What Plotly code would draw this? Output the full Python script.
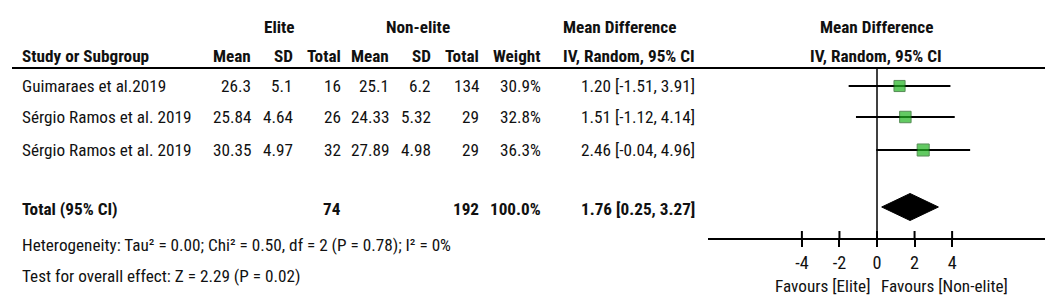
import plotly.graph_objects as go

# ---------------- data ----------------
studies = ["Guimaraes et al.2019", "Sérgio Ramos et al. 2019", "Sérgio Ramos et al. 2019"]
elite_mean = [26.3, 25.84, 30.35]
elite_sd = [5.1, 4.64, 4.97]
elite_total = [16, 26, 32]
non_mean = [25.1, 24.33, 27.89]
non_sd = [6.2, 5.32, 4.98]
non_total = [134, 29, 29]
weights = [30.9, 32.8, 36.3]
md = [1.20, 1.51, 2.46]
ci_lo = [-1.51, -1.12, -0.04]
ci_hi = [3.91, 4.14, 4.96]

total_elite = 74
total_non = 192
total_weight = 100.0
total_md = 1.76
total_lo = 0.25
total_hi = 3.27

heterogeneity = "Heterogeneity: Tau² = 0.00; Chi² = 0.50, df = 2 (P = 0.78); I² = 0%"
overall = "Test for overall effect: Z = 2.29 (P = 0.02)"

tick_vals = [-4, -2, 0, 2, 4]
tick_text = ["-4", "-2", "0", "2", "4"]
axis_range = [-9, 9]
null_effect = 0
favours_left = "Favours [Elite]"
favours_right = "Favours [Non-elite]"

# ---------------- layout constants (pixels) ----------------
W, H = 1053, 295
FONT = "Liberation Sans Narrow, Arial Narrow, Roboto Condensed, DejaVu Sans Condensed, sans-serif"
FS = 17.2
TXT = "#111111"
row_y = [78, 109, 142]
total_y = 201
het_y = 237
test_y = 268
hdr1_y = 19
hdr2_y = 48
line_y = 60
axis_y = 231
col_x = [245, 287, 335, 383, 425, 473, 535]
ci_x = 689
label_x = 12
plot_x0, plot_x1 = 700, 1038

fig = go.Figure()

def ann(x, y, text, anchor="left", bold=False, xref="x"):
    fig.add_annotation(x=x, y=y, xref=xref, yref="y", text=("<b>%s</b>" % text) if bold else text,
                       showarrow=False, xanchor=anchor, yanchor="middle",
                       font=dict(family=FONT, size=FS, color=TXT))

# headers
ann(271, hdr1_y, "Elite", "center", True)
ann(410, hdr1_y, "Non-elite", "center", True)
ann(553, hdr1_y, "Mean Difference", "left", True)
ann(868, hdr1_y, "Mean Difference", "center", True)
ann(label_x, hdr2_y, "Study or Subgroup", "left", True)
for x, t in zip(col_x, ["Mean", "SD", "Total", "Mean", "SD", "Total", "Weight"]):
    ann(x, hdr2_y, t, "right", True)
ann(553, hdr2_y, "IV, Random, 95% CI", "left", True)
ann(868, hdr2_y, "IV, Random, 95% CI", "center", True)

# study rows
for i, y in enumerate(row_y):
    ann(label_x, y, studies[i])
    vals = [str(elite_mean[i]), str(elite_sd[i]), str(elite_total[i]),
            str(non_mean[i]), str(non_sd[i]), str(non_total[i]), "%.1f%%" % weights[i]]
    for x, t in zip(col_x, vals):
        ann(x, y, t, "right")
    ann(ci_x, y, "%.2f [%.2f, %.2f]" % (md[i], ci_lo[i], ci_hi[i]), "right")

# total row
ann(label_x, total_y, "Total (95% CI)", "left", True)
ann(col_x[2], total_y, str(total_elite), "right", True)
ann(col_x[5], total_y, str(total_non), "right", True)
ann(col_x[6], total_y, "%.1f%%" % total_weight, "right", True)
ann(ci_x, total_y, "%.2f [%.2f, %.2f]" % (total_md, total_lo, total_hi), "right", True)
ann(label_x, het_y, heterogeneity)
ann(label_x, test_y, overall)

# header rule
fig.add_shape(type="line", xref="x", yref="y", x0=4, x1=1048, y0=line_y, y1=line_y,
              line=dict(color="black", width=2))

# null effect line
fig.add_trace(go.Scatter(x=[null_effect, null_effect], y=[line_y, axis_y], xaxis="x2", yaxis="y",
                         mode="lines", line=dict(color="black", width=1.5), hoverinfo="skip"))

# study CIs + squares
sizes = [11.5 * (w / 33.0) ** 0.5 for w in weights]
fig.add_trace(go.Scatter(
    x=md, y=row_y, xaxis="x2", yaxis="y", mode="markers",
    marker=dict(symbol="square", size=sizes, color="#20b420", line=dict(color="#125e12", width=1)),
    error_x=dict(type="data", symmetric=False,
                 array=[h - m for h, m in zip(ci_hi, md)],
                 arrayminus=[m - l for m, l in zip(md, ci_lo)],
                 color="black", thickness=1.8, width=0),
    hoverinfo="skip"))

# diamond
dh = 13.5
dy = total_y - 2
fig.add_trace(go.Scatter(
    x=[total_lo, total_md, total_hi, total_md, total_lo],
    y=[dy, dy - dh, dy, dy + dh, dy],
    xaxis="x2", yaxis="y", mode="lines", fill="toself", fillcolor="black",
    line=dict(color="black", width=1), hoverinfo="skip"))

# upper halves of ticks
for tv in tick_vals:
    fig.add_shape(type="line", xref="x2", yref="y", x0=tv, x1=tv, y0=axis_y - 8, y1=axis_y,
                  line=dict(color="black", width=2))

# favours labels
zero_px = plot_x0 + (null_effect - axis_range[0]) / (axis_range[1] - axis_range[0]) * (plot_x1 - plot_x0)
ann(zero_px - 5, 278, favours_left, "right")
ann(zero_px + 2, 278, favours_right, "left")

fig.update_layout(
    width=W, height=H, margin=dict(l=0, r=0, t=0, b=0),
    paper_bgcolor="white", plot_bgcolor="rgba(0,0,0,0)", showlegend=False,
    xaxis=dict(range=[0, W], domain=[0, 1], visible=False, fixedrange=True),
    yaxis=dict(range=[H, 0], domain=[0, 1], visible=False, fixedrange=True),
    xaxis2=dict(range=axis_range, domain=[plot_x0 / W, plot_x1 / W], anchor="free",
                position=1 - axis_y / H, showline=True, linewidth=2, linecolor="black",
                ticks="outside", ticklen=7, tickwidth=2, tickcolor="black",
                tickvals=tick_vals, ticktext=tick_text, showgrid=False, zeroline=False,
                tickfont=dict(family=FONT, size=FS + 1, color=TXT), fixedrange=True),
)

fig.write_html("out.html")
